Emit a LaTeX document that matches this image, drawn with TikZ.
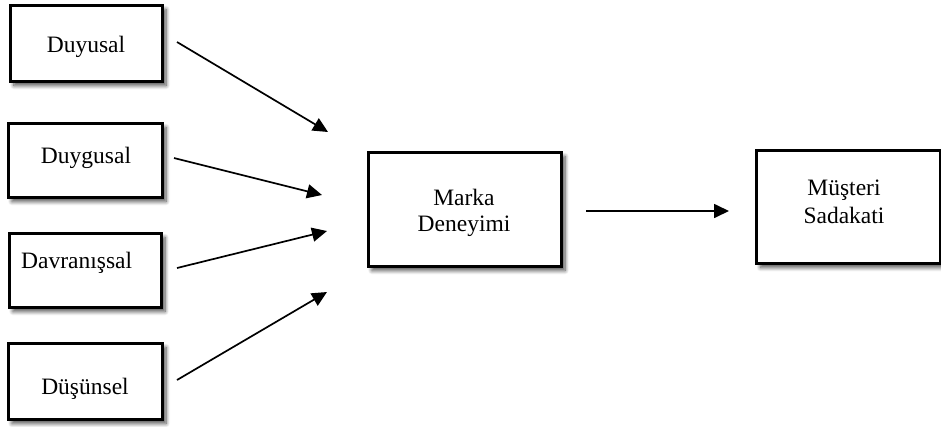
\documentclass[tikz,border=0pt]{standalone}
\usepackage{fontspec}
\setmainfont{Liberation Serif}
\usetikzlibrary{arrows.meta,shadows.blur}
\begin{document}
\begin{tikzpicture}[x=1pt,y=-1pt,
  box/.style={draw=black,line width=3pt,fill=white,inner sep=0pt,
    blur shadow={shadow xshift=4pt,shadow yshift=-4.5pt,shadow blur steps=8,shadow blur radius=4pt,shadow opacity=70}},
  lbl/.style={font=\fontsize{23.5}{27}\selectfont,inner sep=0pt,anchor=base},
  arr/.style={line width=1.7pt,-{Triangle[length=15pt,width=14pt]}}]
\useasboundingbox (0,0) rectangle (941,426);
% boxes
\node[box,minimum width=152pt,minimum height=76pt] (duyusal) at (86,43) {};
\node[box,minimum width=154pt,minimum height=74pt] (duygusal) at (85,160) {};
\node[box,minimum width=152pt,minimum height=74pt] (davranis) at (85,270) {};
\node[box,minimum width=154pt,minimum height=76pt] (dusunsel) at (85,381) {};
\node[box,minimum width=193pt,minimum height=114pt] (marka) at (464.5,209) {};
\node[box,minimum width=184pt,minimum height=113pt] (musteri) at (848.5,206.5) {};
% labels
\node[lbl] (t1) at (86,52) {Duyusal};
\node[lbl] (t2) at (86,163) {Duygusal};
\node[lbl,anchor=base west] (t3) at (21,268) {Davranışsal};
\node[lbl] (t4) at (85,394) {Düşünsel};
\node[lbl] (t5a) at (464,205) {Marka};
\node[lbl] (t5b) at (464,231) {Deneyimi};
\node[lbl] (t6a) at (844,195) {Müşteri};
\node[lbl] (t6b) at (844,223) {Sadakati};
% arrow ends
\coordinate (s1) at (177,42);  \coordinate (e1) at (328,132);
\coordinate (s2) at (174,158); \coordinate (e2) at (322,195);
\coordinate (s3) at (177,268); \coordinate (e3) at (327,231);
\coordinate (s4) at (177,380); \coordinate (e4) at (327,292);
\coordinate (s5) at (586,211); \coordinate (e5) at (729,211);
\draw[arr] (s1) -- (e1);
\draw[arr] (s2) -- (e2);
\draw[arr] (s3) -- (e3);
\draw[arr] (s4) -- (e4);
\draw[arr] (s5) -- (e5);
\end{tikzpicture}
\end{document}
